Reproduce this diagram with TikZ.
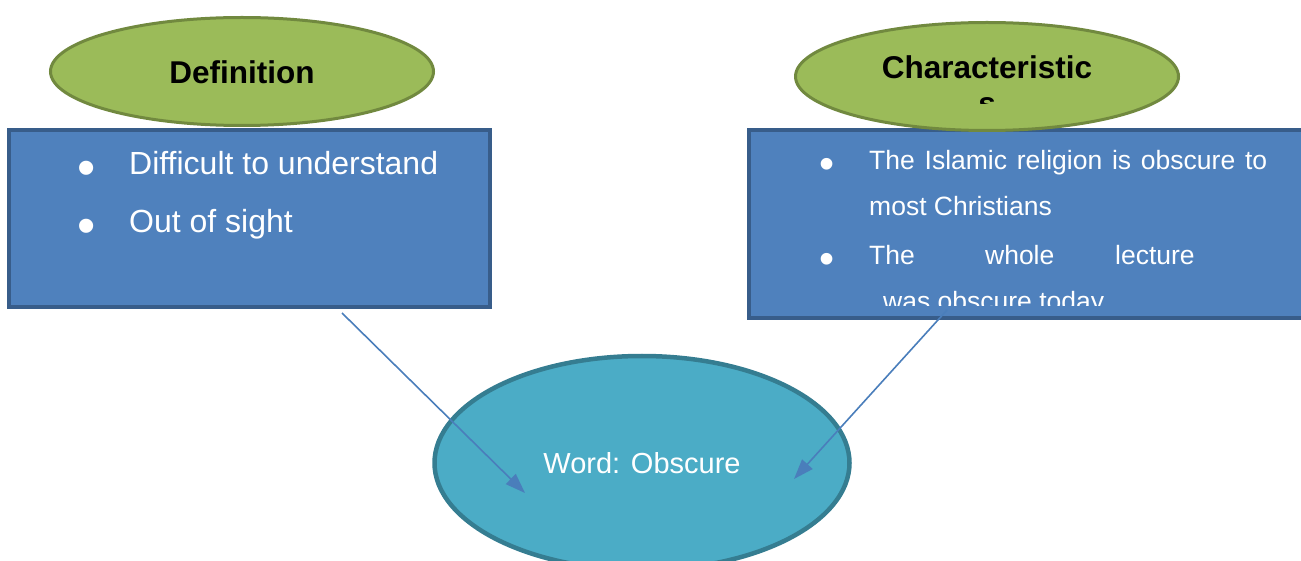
\documentclass[tikz,border=0pt]{standalone}
\usepackage{fontspec}
\setmainfont{Liberation Sans}
\usetikzlibrary{shapes.geometric,arrows.meta}
\definecolor{capfill}{HTML}{9BBB59}
\definecolor{capline}{HTML}{71893F}
\definecolor{boxfill}{HTML}{4F81BD}
\definecolor{boxline}{HTML}{385D8A}
\definecolor{wordfill}{HTML}{4BACC6}
\definecolor{wordline}{HTML}{357D91}
\definecolor{linkline}{HTML}{4A7EBB}
\tikzset{
  capoval/.style={ellipse, draw=capline, fill=capfill, line width=3pt, inner sep=0pt,
    minimum width=383pt, minimum height=108pt},
  infobox/.style={rectangle, draw=boxline, fill=boxfill, line width=3.5pt, inner sep=0pt},
  bigtext/.style={text=white, inner sep=0pt, font=\fontsize{32}{38}\selectfont},
  smalltext/.style={text=white, inner sep=0pt, font=\fontsize{26.5}{32}\selectfont},
  bigdot/.style={text=white, inner sep=0pt, font=\fontsize{52}{52}\selectfont},
  smalldot/.style={text=white, inner sep=0pt, font=\fontsize{43}{43}\selectfont},
  headtext/.style={inner sep=0pt, font=\fontsize{31.5}{36}\selectfont\bfseries},
  link/.style={draw=linkline, line width=1.6pt, -{Triangle[length=20pt,width=14pt]}}
}

\begin{document}
\begin{tikzpicture}[x=1pt,y=1pt]
\useasboundingbox (0,0) rectangle (1301,560);

%箱
\node[infobox, minimum width=481pt, minimum height=177pt] (defbox) at (249.5,341.5) {};
\node[infobox, minimum width=561pt, minimum height=188pt] (charbox) at (1029.5,336) {};

%見出しの楕円
\node[capoval] (defoval) at (242,488.5) {};
\node[capoval] (charoval) at (987,483.5) {};
\node[headtext, anchor=base] (deftitle) at (242,476) {Definition};
\begin{scope}
  \clip (790,456) rectangle (1185,560); %2行目は切れる
  \node[headtext, anchor=base, align=center] (chartitle) at (987,445) {Characteristic\\s};
\end{scope}

%定義の項目
\node[bigdot, anchor=base] (b1) at (87,374) {\textbullet};
\node[bigtext, anchor=base west] (d1) at (129,385) {Difficult to understand};
\node[bigdot, anchor=base] (b2) at (87,316) {\textbullet};
\node[bigtext, anchor=base west] (d2) at (129,327) {Out of sight};

%特徴の項目（下端で切れる）
\begin{scope}
  \clip (750,254) rectangle (1301,431);
  \node[smalldot, anchor=base] (b3) at (827,381) {\textbullet};
  \node[smalltext, anchor=base west] (c1) at (869,390) {\makebox[398pt][s]{The Islamic religion is obscure to}};
  \node[smalltext, anchor=base west] (c2) at (869,344) {most Christians};
  \node[smalldot, anchor=base] (b4) at (827,286) {\textbullet};
  \node[smalltext, anchor=base west] (c3) at (869,295) {The\hspace{70.3pt}whole\hspace{60.8pt}lecture};
  \node[smalltext, anchor=base west] (c4) at (883,249) {was obscure today};
\end{scope}

%中央の楕円
\node[ellipse, draw=wordline, fill=wordfill, line width=4.5pt, inner sep=0pt,
  minimum width=415pt, minimum height=214pt, text=white,
  font=\fontsize{29}{34}\selectfont] (word) at (642,97) {Word: Obscure};

%矢印
\coordinate (defend) at (342,247);
\coordinate (deftip) at (525,67);
\coordinate (charend) at (947,250);
\coordinate (chartip) at (794,81);
\draw[link] (defend) -- (deftip);
\draw[link] (charend) -- (chartip);
\end{tikzpicture}
\end{document}
